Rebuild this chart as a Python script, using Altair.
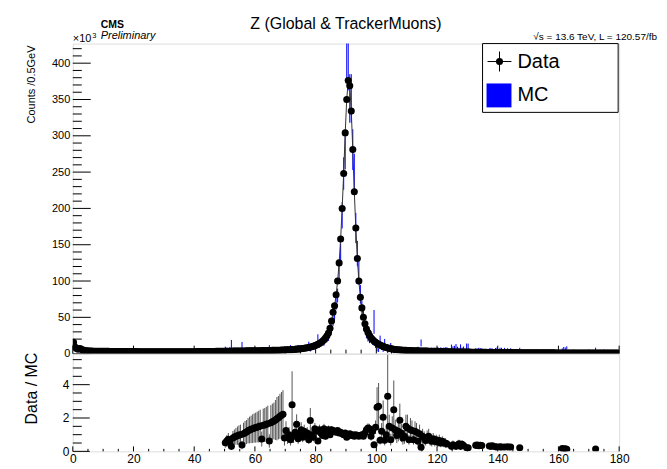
import altair as alt
import pandas as pd

# ---------------- data ----------------
BIN_LOW = 0.0
BIN_WIDTH = 0.5  # GeV

# Data counts per 0.5 GeV bin, in units of 10^3, bins from 0 to 180 GeV
data_counts = [
    # 0-10
    15.5, 9.0, 7.0, 6.0, 7.0, 6.5, 5.0, 4.5, 4.0, 3.8, 3.6, 3.5, 3.5, 3.4, 3.4, 3.3, 3.3, 3.3, 3.2, 3.2,
    # 10-20
    3.2, 3.1, 3.1, 3.1, 3.0, 3.0, 3.0, 3.0, 2.9, 2.9, 2.9, 2.9, 2.9, 2.8, 2.8, 2.8, 2.8, 2.8, 2.8, 2.8,
    # 20-30
    2.8, 2.7, 2.8, 2.7, 2.7, 2.7, 2.7, 2.7, 2.7, 2.7, 2.7, 2.7, 2.6, 2.7, 2.6, 2.6, 2.6, 2.6, 2.6, 2.6,
    # 30-40
    2.6, 2.6, 2.6, 2.6, 2.6, 2.6, 2.6, 2.6, 2.6, 2.6, 2.6, 2.6, 2.7, 2.6, 2.7, 2.7, 2.7, 2.7, 2.7, 2.7,
    # 40-50
    2.7, 2.8, 2.8, 2.8, 2.8, 2.8, 2.9, 2.9, 2.9, 2.9, 3.0, 3.0, 3.0, 3.0, 3.1, 3.1, 3.1, 3.1, 3.2, 3.2,
    # 50-60
    3.2, 3.3, 3.3, 3.4, 3.4, 3.5, 3.5, 3.5, 3.6, 3.6, 3.6, 3.7, 3.7, 3.7, 3.8, 3.8, 3.8, 3.9, 3.9, 3.9,
    # 60-70
    4.0, 4.0, 4.0, 4.1, 4.1, 4.2, 4.2, 4.3, 4.3, 4.4, 4.4, 4.5, 4.5, 4.6, 4.7, 4.7, 4.8, 4.9, 5.0, 5.1,
    # 70-80
    5.2, 5.3, 5.4, 5.5, 5.7, 5.8, 6.0, 6.2, 6.4, 6.6, 6.8, 7.1, 7.4, 7.7, 8.1, 8.5, 9.0, 9.5, 10.1, 10.9,
    # 80-90
    11.8, 12.8, 14.0, 15.4, 17.0, 19.0, 21.5, 24.5, 28.5, 35.0, 45.0, 57.0, 66.0, 81.0, 100.0, 125.0, 158.0, 200.0, 248.0, 304.0,
    # 90-100
    350.0, 376.0, 369.0, 334.0, 281.0, 223.0, 173.0, 131.0, 100.0, 77.5, 63.0, 50.0, 41.0, 34.0, 29.0, 25.0, 22.0, 19.5, 17.5, 15.8,
    # 100-110
    14.3, 13.0, 11.9, 10.9, 10.0, 9.2, 8.5, 7.9, 7.4, 6.9, 6.5, 6.1, 5.8, 5.5, 5.3, 5.1, 4.9, 4.7, 4.6, 4.5,
    # 110-120
    4.4, 4.3, 4.2, 4.1, 4.0, 3.9, 3.9, 3.8, 3.7, 3.7, 3.6, 3.6, 3.5, 3.5, 3.4, 3.4, 3.3, 3.3, 3.2, 3.2,
    # 120-130
    3.1, 3.0, 2.9, 2.9, 2.8, 2.7, 2.7, 2.6, 2.6, 2.5, 2.5, 2.4, 2.4, 2.3, 2.3, 2.3, 2.2, 2.2, 2.2, 2.1,
    # 130-140
    2.1, 2.1, 2.0, 2.0, 2.0, 1.9, 1.9, 1.9, 1.9, 1.8, 1.8, 1.8, 1.8, 1.7, 1.7, 1.7, 1.7, 1.6, 1.6, 1.6,
    # 140-150
    1.6, 1.6, 1.5, 1.5, 1.5, 1.5, 1.5, 1.4, 1.4, 1.4, 1.4, 1.4, 1.4, 1.3, 1.3, 1.3, 1.3, 1.3, 1.3, 1.3,
    # 150-160
    1.2, 1.2, 1.2, 1.2, 1.2, 1.2, 1.2, 1.2, 1.1, 1.1, 1.1, 1.1, 1.1, 1.1, 1.1, 1.1, 1.1, 1.1, 1.0, 1.0,
    # 160-170
    1.0, 1.0, 1.0, 1.0, 1.0, 1.0, 1.0, 1.0, 1.0, 1.0, 0.9, 0.9, 0.9, 0.9, 0.9, 0.9, 0.9, 0.9, 0.9, 0.9,
    # 170-180
    0.9, 0.9, 0.9, 0.9, 0.9, 0.8, 0.8, 0.8, 0.8, 0.8, 0.8, 0.8, 0.8, 0.8, 0.8, 0.8, 0.8, 0.8, 0.8, 0.8,
]

# Data / MC ratio points (bin centre, ratio, error) - only where MC is filled
ratio_mass = [
    50.25, 50.75, 51.25, 51.75, 52.25, 52.75, 53.25, 53.75, 54.25, 54.75,
    55.25, 55.75, 56.25, 56.75, 57.25, 57.75, 58.25, 58.75, 59.25, 59.75,
    60.25, 60.75, 61.25, 61.75, 62.25, 62.75, 63.25, 63.75, 64.25, 64.75,
    65.25, 65.75, 66.25, 66.75, 67.25, 67.75, 68.25, 68.75, 69.25, 69.75,
    70.25, 70.75, 71.25, 71.75, 72.25, 72.75, 73.25, 73.75, 74.25, 74.75,
    75.25, 75.75, 76.25, 76.75, 77.25, 77.75, 78.25, 78.75, 79.25, 79.75,
    80.25, 80.75, 81.25, 81.75, 82.25, 82.75, 83.25, 83.75, 84.25, 84.75,
    85.25, 85.75, 86.25, 86.75, 87.25, 87.75, 88.25, 88.75, 89.25, 89.75,
    90.25, 90.75, 91.25, 91.75, 92.25, 92.75, 93.25, 93.75, 94.25, 94.75,
    95.25, 95.75, 96.25, 96.75, 97.25, 97.75, 98.25, 98.75, 99.25, 99.75,
    100.25, 100.75, 101.25, 101.75, 102.25, 102.75, 103.25, 103.75, 104.25, 104.75,
    105.25, 105.75, 106.25, 106.75, 107.25, 107.75, 108.25, 108.75, 109.25, 109.75,
    110.25, 110.75, 111.25, 111.75, 112.25, 112.75, 113.25, 113.75, 114.25, 114.75,
    115.25, 115.75, 116.25, 116.75, 117.25, 117.75, 118.25, 118.75, 119.25, 119.75,
    120.25, 120.75, 121.25, 121.75, 122.25, 122.75, 123.25, 124.75, 125.25, 125.75,
    126.25, 126.75, 127.25, 127.75, 128.25, 128.75, 129.75, 130.25, 132.75, 133.25,
    133.75, 134.25, 134.75, 137.25, 137.75, 138.25, 139.25, 139.75, 140.75, 141.25,
    142.25, 143.25, 144.25, 147.25, 161.25, 161.75, 162.25, 162.75, 172.25,
]
ratio_value = [
    0.52, 0.62, 0.72, 0.58, 0.30, 0.80, 0.86, 0.90, 0.94, 0.98,
    1.00, 0.38, 1.06, 1.12, 1.16, 1.24, 1.28, 1.32, 1.36, 1.40,
    1.42, 1.46, 1.48, 1.52, 0.74, 1.56, 1.58, 1.62, 1.66, 0.62,
    1.72, 1.78, 1.82, 1.88, 1.96, 2.02, 2.10, 2.16, 2.22, 0.80,
    1.25, 0.85, 1.00, 0.70, 2.80, 0.90, 1.15, 1.62, 0.75, 1.05,
    1.30, 0.85, 1.20, 0.95, 1.10, 0.70, 1.85, 1.00, 0.85, 1.35,
    1.20, 0.62, 1.30, 1.10, 0.95, 1.35, 0.90, 1.25, 1.30, 1.00,
    1.30, 1.25, 1.20, 1.15, 1.25, 1.10, 1.15, 1.05, 1.00, 1.10,
    0.85, 0.95, 1.05, 0.95, 1.00, 0.90, 1.00, 0.95, 0.90, 0.95,
    1.00, 0.90, 1.10, 1.30, 1.40, 1.35, 0.90, 1.20, 0.40, 1.45,
    2.65, 2.70, 0.66, 1.20, 2.05, 0.66, 1.00, 3.30, 1.50, 0.70,
    1.40, 2.50, 1.30, 0.95, 1.20, 1.86, 1.10, 0.80, 0.90, 1.50,
    1.40, 0.70, 1.30, 1.25, 0.70, 1.20, 1.15, 0.60, 1.05, 0.25,
    0.90, 0.80, 0.65, 0.85, 0.90, 0.70, 0.60, 0.75, 0.60, 0.70,
    0.55, 0.65, 0.50, 0.60, 0.50, 0.50, 0.45, 0.30, 0.40, 0.35,
    0.30, 0.38, 0.45, 0.30, 0.42, 0.35, 0.22, 0.22, 0.36, 0.38,
    0.34, 0.36, 0.35, 0.32, 0.30, 0.33, 0.28, 0.26, 0.27, 0.26,
    0.26, 0.27, 0.26, 0.22, 0.17, 0.14, 0.15, 0.13, 0.14,
]
ratio_error = [
    0.30, 0.35, 0.38, 0.33, 0.20, 0.42, 0.45, 0.50, 0.55, 0.58,
    0.60, 0.25, 0.65, 0.70, 0.72, 0.76, 0.80, 0.82, 0.86, 0.88,
    0.90, 0.92, 0.95, 0.98, 0.45, 1.00, 1.02, 1.05, 1.08, 0.40,
    1.05, 1.08, 1.10, 1.20, 1.30, 1.30, 1.35, 1.40, 1.45, 0.45,
    0.55, 0.40, 0.45, 0.35, 2.00, 0.40, 0.45, 0.60, 0.30, 0.40,
    0.45, 0.30, 0.40, 0.30, 0.35, 0.25, 0.75, 0.30, 0.25, 0.35,
    0.30, 0.18, 0.30, 0.25, 0.20, 0.30, 0.20, 0.25, 0.25, 0.20,
    0.22, 0.20, 0.18, 0.16, 0.15, 0.13, 0.12, 0.10, 0.09, 0.09,
    0.07, 0.08, 0.10, 0.09, 0.10, 0.10, 0.12, 0.12, 0.13, 0.15,
    0.16, 0.16, 0.20, 0.25, 0.28, 0.30, 0.25, 0.30, 0.15, 0.40,
    1.20, 1.40, 0.25, 0.50, 1.00, 0.30, 0.45, 2.50, 0.70, 0.35,
    0.70, 1.75, 0.60, 0.45, 0.60, 1.00, 0.55, 0.40, 0.45, 0.70,
    0.80, 0.30, 0.70, 0.60, 0.30, 0.60, 0.55, 0.30, 0.55, 0.08,
    0.45, 0.40, 0.30, 0.40, 0.45, 0.35, 0.30, 0.35, 0.30, 0.30,
    0.30, 0.35, 0.25, 0.30, 0.25, 0.30, 0.22, 0.15, 0.25, 0.20,
    0.20, 0.22, 0.25, 0.20, 0.25, 0.20, 0.10, 0.10, 0.15, 0.15,
    0.15, 0.15, 0.15, 0.12, 0.12, 0.12, 0.10, 0.10, 0.10, 0.10,
    0.10, 0.10, 0.10, 0.08, 0.04, 0.04, 0.04, 0.04, 0.04,
]

x_tick_labels = [0, 20, 40, 60, 80, 100, 120, 140, 160, 180]
top_y_labels = [0, 50, 100, 150, 200, 250, 300, 350, 400]
ratio_y_labels = [0, 2, 4]

title_text = "Z (Global & TrackerMuons)"
cms_text = "CMS"
prelim_text = "Preliminary"
lumi_text = "√s = 13.6 TeV, L = 120.57/fb"
y_title_top = "Counts /0.5GeV"
y_title_ratio = "Data / MC"
legend_labels = ["Data", "MC"]

# ---------------- derived tables ----------------
centers = [BIN_LOW + BIN_WIDTH * (i + 0.5) for i in range(len(data_counts))]
df_data = pd.DataFrame({"mass": centers, "counts": data_counts})

idx = [int(round((m - BIN_LOW) / BIN_WIDTH - 0.5)) for m in ratio_mass]
mc_vals = [data_counts[i] / r for i, r in zip(idx, ratio_value)]
mc_errs = [m * e / r for m, e, r in zip(mc_vals, ratio_error, ratio_value)]
df_mc = pd.DataFrame({
    "mass": ratio_mass,
    "lo": [m - e for m, e in zip(mc_vals, mc_errs)],
    "hi": [m + e for m, e in zip(mc_vals, mc_errs)],
})
df_ratio = pd.DataFrame({
    "mass": ratio_mass,
    "ratio": ratio_value,
    "lo": [max(r - e, 0) for r, e in zip(ratio_value, ratio_error)],
    "hi": [r + e for r, e in zip(ratio_value, ratio_error)],
})

TOP_Y_MAX = 427
RATIO_Y_MAX = 5.86
W, H_TOP, H_RAT = 548, 311, 98
FONT = "Liberation Sans"

xs = alt.Scale(domain=[0, 180], nice=False, zero=False)
ys_top = alt.Scale(domain=[0, TOP_Y_MAX], nice=False, zero=False)
ys_rat = alt.Scale(domain=[0, RATIO_Y_MAX], nice=False, zero=False)

axis_top_y = alt.Axis(values=top_y_labels, ticks=False, tickSize=0, domain=False, grid=False,
                      labelFontSize=11, labelPadding=3, labelFont=FONT, labelColor="black", title=None)
axis_rat_y = alt.Axis(values=ratio_y_labels, ticks=False, tickSize=0, domain=False, grid=False,
                      labelFontSize=12, labelPadding=4, labelFont=FONT, labelColor="black", title=None)
axis_rat_x = alt.Axis(values=x_tick_labels, ticks=False, tickSize=0, domain=False, grid=False,
                      labelFontSize=12, labelPadding=2, labelFont=FONT, labelColor="black", title=None,
                      labelFlush=False)


def text_layer(txt, x, y, size, **kw):
    return alt.Chart(pd.DataFrame({"t": [txt]})).mark_text(
        fontSize=size, font=FONT, color="black", **kw
    ).encode(x=alt.value(x), y=alt.value(y), text="t:N")


def anchor(x, x2, y, y2):
    return alt.Chart(pd.DataFrame({"a": [0]})).mark_rect(opacity=0).encode(
        x=alt.value(x), x2=alt.value(x2), y=alt.value(y), y2=alt.value(y2))


# ---------------- top panel ----------------
X_top = alt.X("mass:Q", scale=xs, axis=None)

mc_bars = alt.Chart(df_mc).mark_rule(color="#0000ff", strokeWidth=1, clip=True).encode(
    x=X_top, y=alt.Y("lo:Q", scale=ys_top, axis=axis_top_y), y2="hi:Q")
data_line = alt.Chart(df_data).mark_line(color="#333333", strokeWidth=1, clip=True).encode(
    x=X_top, y=alt.Y("counts:Q", scale=ys_top, axis=axis_top_y))
data_pts = alt.Chart(df_data).mark_circle(size=50, color="black", opacity=1, clip=True).encode(
    x=X_top, y=alt.Y("counts:Q", scale=ys_top, axis=axis_top_y))

yt_major = alt.Chart(pd.DataFrame({"v": top_y_labels})).mark_rule(color="black").encode(
    y=alt.Y("v:Q", scale=ys_top, axis=axis_top_y), x=alt.value(0), x2=alt.value(18))
yt_minor = alt.Chart(pd.DataFrame({"v": [v for v in range(10, TOP_Y_MAX, 10) if v % 50]})).mark_rule(color="black").encode(
    y=alt.Y("v:Q", scale=ys_top, axis=axis_top_y), x=alt.value(0), x2=alt.value(9))
xt_major = alt.Chart(pd.DataFrame({"v": x_tick_labels})).mark_rule(color="black").encode(
    x=alt.X("v:Q", scale=xs, axis=None), y=alt.value(H_TOP), y2=alt.value(H_TOP - 8))
xt_minor = alt.Chart(pd.DataFrame({"v": [v for v in range(5, 180, 5) if v % 20]})).mark_rule(color="black").encode(
    x=alt.X("v:Q", scale=xs, axis=None), y=alt.value(H_TOP), y2=alt.value(H_TOP - 4))

# legend (drawn by hand, ROOT style)
leg_box = alt.Chart(pd.DataFrame({"a": [0]})).mark_rect(fill="white", stroke="black", strokeWidth=1).encode(
    x=alt.value(411), x2=alt.value(547), y=alt.value(0), y2=alt.value(69))
leg_h = alt.Chart(pd.DataFrame({"a": [0]})).mark_rule(color="black").encode(
    x=alt.value(416), x2=alt.value(440), y=alt.value(18))
leg_v = alt.Chart(pd.DataFrame({"a": [0]})).mark_rule(color="black").encode(
    x=alt.value(428), y=alt.value(8), y2=alt.value(28))
leg_pt = alt.Chart(pd.DataFrame({"a": [0]})).mark_circle(size=50, color="black", opacity=1).encode(
    x=alt.value(428), y=alt.value(18))
leg_mc = alt.Chart(pd.DataFrame({"a": [0]})).mark_rect(color="#0000ff").encode(
    x=alt.value(415), x2=alt.value(440), y=alt.value(40), y2=alt.value(64))

top = alt.layer(
    anchor(-72, 595, -42, H_TOP),
    mc_bars, data_line, data_pts,
    yt_major, yt_minor, xt_major, xt_minor,
    leg_box, leg_h, leg_v, leg_pt, leg_mc,
    text_layer(legend_labels[0], 446, 18, 20, align="left", baseline="middle"),
    text_layer(legend_labels[1], 446, 52, 20, align="left", baseline="middle"),
    text_layer(title_text, 274, -15, 16, align="center", baseline="alphabetic"),
    text_layer(cms_text, 28, -15.5, 10.5, align="left", baseline="alphabetic", fontWeight="bold"),
    text_layer(prelim_text, 28, -4.5, 11, align="left", baseline="alphabetic", fontStyle="italic"),
    text_layer("×10", 0, -1.5, 11, align="left", baseline="alphabetic"),
    text_layer("3", 19.5, -5.5, 7.5, align="left", baseline="alphabetic"),
    text_layer(lumi_text, 586, -4, 10, align="right", baseline="alphabetic"),
    text_layer(y_title_top, -41, 41, 11, align="center", baseline="middle", angle=270),
).properties(width=W, height=H_TOP)

# ---------------- ratio panel ----------------
X_rat = alt.X("mass:Q", scale=xs, axis=axis_rat_x)

rat_err = alt.Chart(df_ratio).mark_rule(color="#555555", strokeWidth=1, clip=True).encode(
    x=X_rat, y=alt.Y("lo:Q", scale=ys_rat, axis=axis_rat_y), y2="hi:Q")
rat_pts = alt.Chart(df_ratio).mark_circle(size=50, color="black", opacity=1, clip=True).encode(
    x=X_rat, y=alt.Y("ratio:Q", scale=ys_rat, axis=axis_rat_y))

ry_major = alt.Chart(pd.DataFrame({"v": ratio_y_labels})).mark_rule(color="black").encode(
    y=alt.Y("v:Q", scale=ys_rat, axis=axis_rat_y), x=alt.value(0), x2=alt.value(17))
ry_minor = alt.Chart(pd.DataFrame({"v": [k / 2 for k in range(1, 12) if k % 4]})).mark_rule(color="black").encode(
    y=alt.Y("v:Q", scale=ys_rat, axis=axis_rat_y), x=alt.value(0), x2=alt.value(9))
rx_major = alt.Chart(pd.DataFrame({"v": x_tick_labels})).mark_rule(color="black").encode(
    x=alt.X("v:Q", scale=xs, axis=axis_rat_x), y=alt.value(H_RAT), y2=alt.value(H_RAT - 5))
rx_minor = alt.Chart(pd.DataFrame({"v": [v for v in range(5, 180, 5) if v % 20]})).mark_rule(color="black").encode(
    x=alt.X("v:Q", scale=xs, axis=axis_rat_x), y=alt.value(H_RAT), y2=alt.value(H_RAT - 2.5))

bottom = alt.layer(
    anchor(-72, 595, 0, H_RAT + 18),
    rat_err, rat_pts, ry_major, ry_minor, rx_major, rx_minor,
    text_layer(y_title_ratio, -41, 35, 16, align="center", baseline="middle", angle=270),
).properties(width=W, height=H_RAT)

chart = alt.vconcat(top, bottom, spacing=0, bounds="flush").properties(
    padding=0
).configure_view(stroke="black", strokeWidth=1).configure(background="white")

chart.save("out.html", embed_options={"renderer": "svg", "actions": False})
